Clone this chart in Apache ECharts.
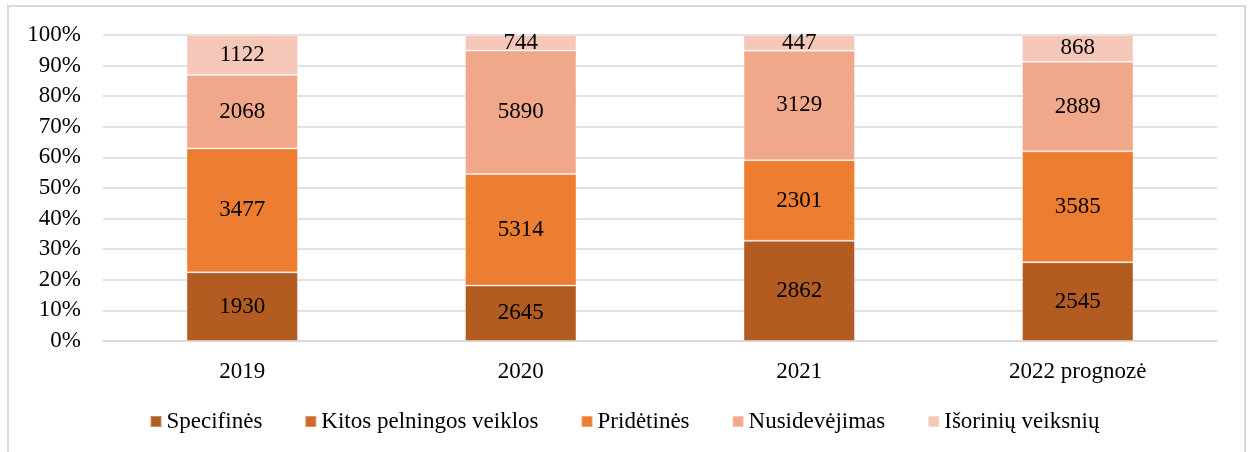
<!DOCTYPE html>
<html>
<head>
<meta charset="utf-8">
<script src="https://cdn.jsdelivr.net/npm/echarts@6/dist/echarts.min.js"></script>
<style>
html,body{margin:0;padding:0;background:#fff;}
#chart{width:1249px;height:452px;}
</style>
</head>
<body>
<div id="chart"></div>
<script>
const categories = ['2019', '2020', '2021', '2022 prognozė'];
const seriesNames = ['Specifinės', 'Kitos pelningos veiklos', 'Pridėtinės', 'Nusidevėjimas', 'Išorinių veiksnių'];
const specifines = [1930, 2645, 2862, 2545];
const kitos = [0, 0, 0, 0];
const pridetines = [3477, 5314, 2301, 3585];
const nusidevejimas = [2068, 5890, 3129, 2889];
const isoriniu = [1122, 744, 447, 868];
const yTicks = ['0%', '10%', '20%', '30%', '40%', '50%', '60%', '70%', '80%', '90%', '100%'];
const colors = ['#B35C22', '#CC6A2C', '#ED7D31', '#F1A88A', '#F5C7B8'];

const raw = [specifines, kitos, pridetines, nusidevejimas, isoriniu];
const totals = categories.map((c, i) => raw.reduce((s, arr) => s + arr[i], 0));

const font = 'Liberation Serif';
const fs = 23;
const chart = echarts.init(document.getElementById('chart'));
chart.setOption({
  animation: false,
  color: colors,
  textStyle: {fontFamily: font},
  graphic: [{
    type: 'rect',
    shape: {x: 8, y: 6, width: 1237, height: 460},
    style: {fill: 'none', stroke: '#d9d9d9', lineWidth: 2},
    silent: true
  }],
  grid: {left: 103, right: 32, top: 35, bottom: 111, containLabel: false},
  legend: {
    top: 405,
    left: 'center',
    itemWidth: 11,
    itemHeight: 11,
    itemGap: 42,
    icon: 'rect',
    textStyle: {fontFamily: font, fontSize: fs, color: '#000'},
    data: seriesNames
  },
  xAxis: {
    type: 'category',
    data: categories,
    axisLine: {show: true, lineStyle: {color: '#d9d9d9', width: 1.5}},
    axisTick: {show: false},
    axisLabel: {fontFamily: font, fontSize: fs, color: '#000', margin: 19}
  },
  yAxis: {
    type: 'value',
    min: 0,
    max: 1,
    interval: 0.1,
    axisLine: {show: false},
    axisTick: {show: false},
    splitLine: {lineStyle: {color: '#d9d9d9', width: 1.5}},
    axisLabel: {
      fontFamily: font, fontSize: fs, color: '#000', margin: 22,
      formatter: function (v) { return yTicks[Math.round(v * 10)]; }
    }
  },
  series: seriesNames.map((name, si) => ({
    name: name,
    type: 'bar',
    stack: 'total',
    barWidth: '40%',
    itemStyle: {borderColor: 'rgba(255,255,255,0.3)', borderWidth: 1},
    label: {
      show: si !== 1,
      position: 'inside',
      fontFamily: font,
      fontSize: fs,
      color: '#000',
      formatter: function (p) { return raw[si][p.dataIndex] ? String(raw[si][p.dataIndex]) : ''; }
    },
    data: raw[si].map((v, i) => v / totals[i])
  }))
});
</script>
</body>
</html>
